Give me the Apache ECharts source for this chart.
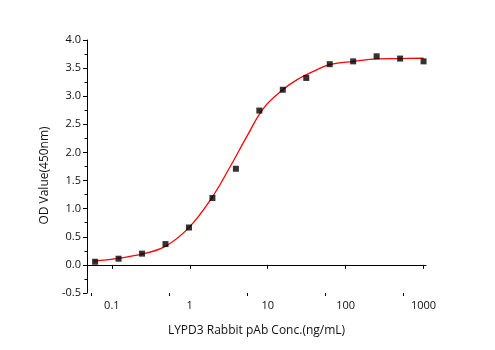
<!DOCTYPE html>
<html>
<head>
<meta charset="utf-8">
<script src="https://cdn.jsdelivr.net/npm/echarts@6/dist/echarts.min.js"></script>
<style>
html,body{margin:0;padding:0;background:#fff;}
#chart{width:495px;height:350px;}
</style>
</head>
<body>
<div id="chart"></div>
<script>
// Data
const concentrations = [0.061, 0.122, 0.244, 0.488, 0.977, 1.953, 3.906, 7.813, 15.625, 31.25, 62.5, 125, 250, 500, 1000];
const odValues = [0.056, 0.11, 0.20, 0.37, 0.665, 1.19, 1.71, 2.745, 3.115, 3.325, 3.57, 3.62, 3.71, 3.67, 3.62];

// Fitted curve, sampled by eye along the red line in the reference
const curveConc = [0.058, 0.12, 0.239, 0.478, 0.953, 1.90, 3.31, 5.43, 8.88, 15.6, 23.9, 39.1, 64.1, 128, 251, 506, 1000];
const curveOD = [0.066, 0.116, 0.19, 0.325, 0.65, 1.185, 1.75, 2.29, 2.79, 3.115, 3.295, 3.445, 3.565, 3.62, 3.665, 3.67, 3.675];

const xMajorTicks = [0.1, 1, 10, 100, 1000];
const xMinorTicks = [0.055, 0.55, 5.5, 55, 550];
const yTickInterval = 0.5;

const pts = concentrations.map((c, i) => [c, odValues[i]]);
const curve = curveConc.map((c, i) => [c, curveOD[i]]);

const font = 'Open Sans';
const chart = echarts.init(document.getElementById('chart'), null, {renderer: 'canvas'});
chart.setOption({
  animation: false,
  backgroundColor: '#ffffff',
  grid: {left: 87, right: 69, top: 40, bottom: 57, containLabel: false},
  xAxis: [{
    type: 'log',
    logBase: 10,
    min: 0.048,
    max: 1075,
    position: 'bottom',
    name: 'LYPD3 Rabbit pAb Conc.(ng/mL)',
    nameLocation: 'middle',
    nameGap: 32,
    nameTextStyle: {fontFamily: font, fontSize: 12, color: '#111'},
    axisLine: {show: true, lineStyle: {color: '#000', width: 1}},
    axisTick: {show: true, length: 4, customValues: xMajorTicks, lineStyle: {color: '#000'}},
    axisLabel: {customValues: xMajorTicks, fontFamily: font, fontSize: 11, color: '#111', margin: 7,
      formatter: v => String(v)},
    splitLine: {show: false},
    minorTick: {show: false}
  }, {
    type: 'log',
    logBase: 10,
    min: 0.048,
    max: 1075,
    position: 'bottom',
    axisLine: {show: false},
    axisTick: {show: true, length: 3, customValues: xMinorTicks, lineStyle: {color: '#000'}},
    axisLabel: {show: false},
    splitLine: {show: false}
  }],
  yAxis: {
    type: 'value',
    min: -0.5,
    max: 4,
    interval: yTickInterval,
    name: 'OD Value(450nm)',
    nameLocation: 'middle',
    nameGap: 36,
    nameTextStyle: {fontFamily: font, fontSize: 12, color: '#111', padding: [0, 18, 0, 0]},
    axisLine: {show: true, lineStyle: {color: '#000', width: 1}},
    axisTick: {show: true, length: 4, lineStyle: {color: '#000'}},
    minorTick: {show: true, splitNumber: 2, length: 2.5, lineStyle: {color: '#000'}},
    axisLabel: {fontFamily: font, fontSize: 11, color: '#111', margin: 6,
      formatter: v => v.toFixed(1)},
    splitLine: {show: false}
  },
  series: [{
    type: 'line',
    data: curve,
    smooth: 0.4,
    showSymbol: false,
    symbol: 'none',
    lineStyle: {color: '#ff0000', width: 1.3},
    z: 2
  }, {
    type: 'scatter',
    data: pts,
    symbol: 'rect',
    symbolSize: 6,
    itemStyle: {color: '#000'},
    z: 3
  }]
});
</script>
</body>
</html>
